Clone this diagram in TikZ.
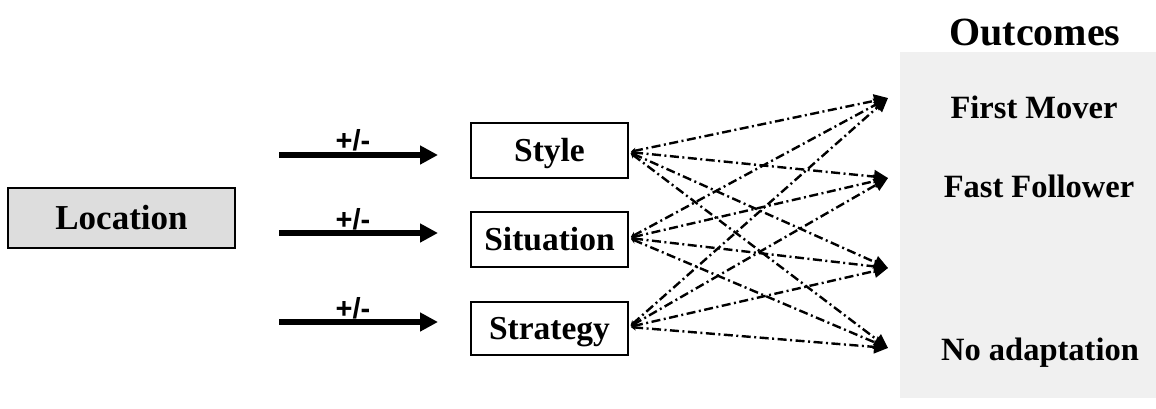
\documentclass[tikz,border=0pt]{standalone}
\usepackage{fontspec}
\setmainfont{Liberation Serif}
\newfontfamily\arialfont{Liberation Sans}
\usetikzlibrary{arrows.meta}
\definecolor{locgray}{HTML}{DDDDDD}
\definecolor{outgray}{HTML}{F0F0F0}
\tikzset{
  boxnode/.style={draw=black, line width=2pt, fill=white, inner sep=0pt,
     minimum width=157pt, minimum height=55pt, text height=22pt, text depth=0pt,
     font=\fontsize{33.5}{38}\selectfont\bfseries},
  locnode/.style={draw=black, line width=2pt, fill=locgray, inner sep=0pt,
     minimum width=227pt, minimum height=60pt, text height=23pt, text depth=0pt,
     font=\fontsize{35}{40}\selectfont\bfseries},
  outtext/.style={inner sep=0pt, font=\fontsize{32.5}{38}\selectfont\bfseries},
  bigarrow/.style={line width=6.5pt, -{Triangle[length=18pt,width=18pt]}},
  pmlabel/.style={inner sep=0pt, font=\arialfont\fontsize{29}{32}\selectfont\bfseries},
  dashlink/.style={line width=2.4pt, dash pattern=on 9pt off 3.5pt on 2pt off 3.5pt,
     {Stealth[length=5pt,width=6pt]}-{Triangle[length=14pt,width=13pt]},
     shorten <=2pt}
}
\begin{document}
\begin{tikzpicture}[x=1pt,y=-1pt]
\useasboundingbox (0,0) rectangle (1156,408);
% outcomes panel
\fill[outgray] (900,52) rectangle (1156,398);
\node[inner sep=0pt, font=\fontsize{40}{46}\selectfont\bfseries] (outtitle) at (1035,32) {Outcomes};
\node[outtext] (fm) at (1034,107) {First Mover};
\node[outtext] (ff) at (1039,186) {Fast Follower};
\node[outtext] (na) at (1040,353) {No adaptation};
% targets
\coordinate (t1) at (888,98);
\coordinate (t2) at (888,178);
\coordinate (t3) at (888,268);
\coordinate (t4) at (888,348);
% nodes
\node[locnode] (loc) at (121.5,218) {Location};
\node[boxnode] (sty) at (549.5,150.5) {Style};
\node[boxnode] (sit) at (549.5,239.5) {Situation};
\node[boxnode, minimum height=53pt] (str) at (549.5,328.5) {Strategy};
% thick arrows
\coordinate (a1s) at (279,155); \coordinate (a1e) at (438,155);
\coordinate (a2s) at (279,233); \coordinate (a2e) at (438,233);
\coordinate (a3s) at (279,322); \coordinate (a3e) at (438,322);
\draw[bigarrow] (a1s) -- (a1e);
\draw[bigarrow] (a2s) -- (a2e);
\draw[bigarrow] (a3s) -- (a3e);
\node[pmlabel] (pm1) at (353,140) {+/-};
\node[pmlabel] (pm2) at (353,219) {+/-};
\node[pmlabel] (pm3) at (353,308) {+/-};
% dash-dot links
\foreach \s/\y in {sty/152, sit/238, str/327}{
  \foreach \t in {t1,t2,t3,t4}{
    \draw[dashlink] (\s.east |- 0,\y) -- (\t);
  }
}
\end{tikzpicture}
\end{document}
